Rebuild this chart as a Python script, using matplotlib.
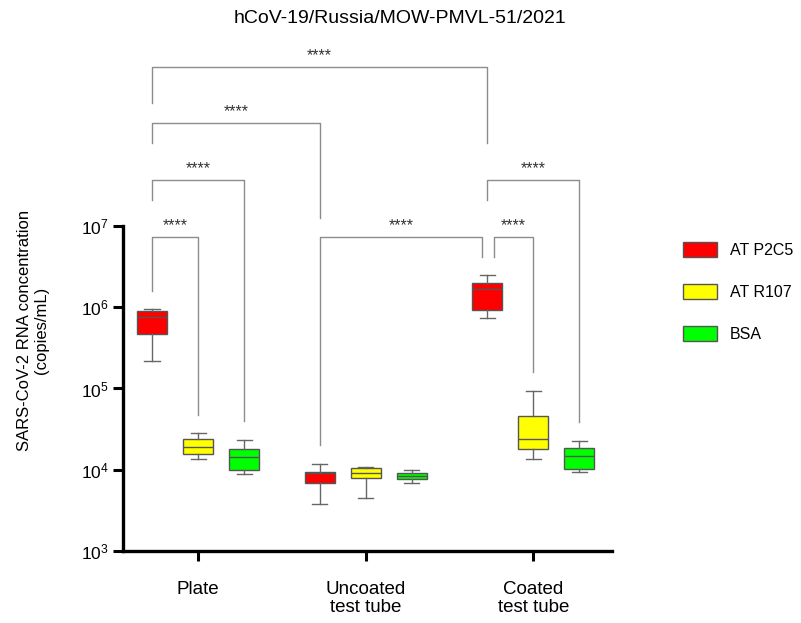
import matplotlib
matplotlib.use("Agg")
import matplotlib.pyplot as plt
from matplotlib.patches import Patch

plt.rcParams['font.family'] = ['Liberation Sans', 'DejaVu Sans']
plt.rcParams['mathtext.fontset'] = 'custom'
plt.rcParams['mathtext.rm'] = 'Liberation Sans'
plt.rcParams['mathtext.it'] = 'Liberation Sans:italic'
plt.rcParams['mathtext.bf'] = 'Liberation Sans:bold'

# data: 5-number summaries (whisker low, q1, median, q3, whisker high) per group
groups = ['Plate', 'Uncoated\ntest tube', 'Coated\ntest tube']
series = ['AT P2C5', 'AT R107', 'BSA']
colors = ['#ff0000', '#ffff00', '#00ff00']

p2c5 = [[2.2e5, 4.7e5, 7.6e5, 8.9e5, 9.5e5],
        [3.8e3, 6.9e3, 9.1e3, 9.5e3, 1.18e4],
        [7.4e5, 9.3e5, 1.67e6, 2.0e6, 2.5e6]]
r107 = [[1.35e4, 1.55e4, 1.9e4, 2.4e4, 2.8e4],
        [4.5e3, 7.8e3, 9.1e3, 1.05e4, 1.07e4],
        [1.35e4, 1.8e4, 2.4e4, 4.6e4, 9.3e4]]
bsa = [[8.9e3, 1.0e4, 1.45e4, 1.8e4, 2.3e4],
       [6.9e3, 7.7e3, 8.4e3, 9.1e3, 1.0e4],
       [9.4e3, 1.02e4, 1.48e4, 1.86e4, 2.25e4]]

# significance brackets: x1, x2, bar level, left leg end, right leg end (log10)
brackets = [(-0.275, 1.725, 8.957, 8.514, 8.02),
            (-0.275, 0.725, 8.268, 8.02, 7.098),
            (-0.275, 0.275, 7.566, 7.32, 4.60),
            (-0.275, 0.0, 6.865, 6.20, 4.674),
            (1.725, 2.275, 7.566, 7.32, 4.588),
            (0.725, 1.696, 6.865, 4.305, 6.62),
            (1.767, 2.0, 6.865, 6.62, 5.203)]
stars = '****'

fig = plt.figure(figsize=(8.01, 6.23), dpi=100)
ax = fig.add_axes([0.1536, 0.1156, 0.6105, 0.5217])

offset = 0.275
for s, data in enumerate([p2c5, r107, bsa]):
    stats = []
    pos = []
    for g, v in enumerate(data):
        stats.append(dict(whislo=v[0], q1=v[1], med=v[2], q3=v[3], whishi=v[4], fliers=[]))
        pos.append(g + (s - 1) * offset)
    ax.bxp(stats, positions=pos, widths=0.18, capwidths=0.09, patch_artist=True,
           showfliers=False,
           boxprops=dict(facecolor=colors[s], edgecolor='#555555', linewidth=1),
           medianprops=dict(color='#555555', linewidth=1),
           whiskerprops=dict(color='#666666', linewidth=1),
           capprops=dict(color='#666666', linewidth=1))

ax.set_yscale('log')
ax.set_ylim(1e3, 1e7)
ax.set_xlim(-0.448, 2.47)
ax.set_yticks([1e3, 1e4, 1e5, 1e6, 1e7])
ax.set_yticklabels(['$10^{%d}$' % e for e in range(3, 8)], fontsize=12.5)
ax.minorticks_off()
ax.set_xticks([0, 1, 2])
ax.set_xticklabels(groups, fontsize=13.5, linespacing=1.1)
ax.tick_params(axis='both', length=7.5, width=2.2, color='black')
ax.tick_params(axis='x', pad=14)
ax.tick_params(axis='y', pad=3)
for sp in ['top', 'right']:
    ax.spines[sp].set_visible(False)
for sp in ['left', 'bottom']:
    ax.spines[sp].set_linewidth(2.4)
    ax.spines[sp].set_color('black')

fig.text(0.041, 0.47, 'SARS-CoV-2 RNA concentration\n(copies/mL)', rotation=90,
         ha='center', va='center', fontsize=12, multialignment='center')

bc = '#8c8c8c'
for x1, x2, yb, yl, yr in brackets:
    ax.plot([x1, x1, x2, x2], [10**yl, 10**yb, 10**yb, 10**yr], color=bc, lw=1,
            clip_on=False)
    ax.text((x1 + x2) / 2, 10**(yb + 0.14), stars, ha='center', va='center',
            fontsize=11.5, color='#333333', clip_on=False)

fig.text(0.499, 0.971, 'hCoV-19/Russia/MOW-PMVL-51/2021', ha='center', va='center',
         fontsize=14)

handles = [Patch(facecolor=c, edgecolor='#555555', label=l) for c, l in zip(colors, series)]
fig.legend(handles=handles, loc='upper left', bbox_to_anchor=(0.835, 0.635), frameon=False,
           fontsize=11.5, handlelength=2.1, handleheight=1.05, handletextpad=0.8,
           labelspacing=1.65)

fig.savefig('out.png', dpi=100)
